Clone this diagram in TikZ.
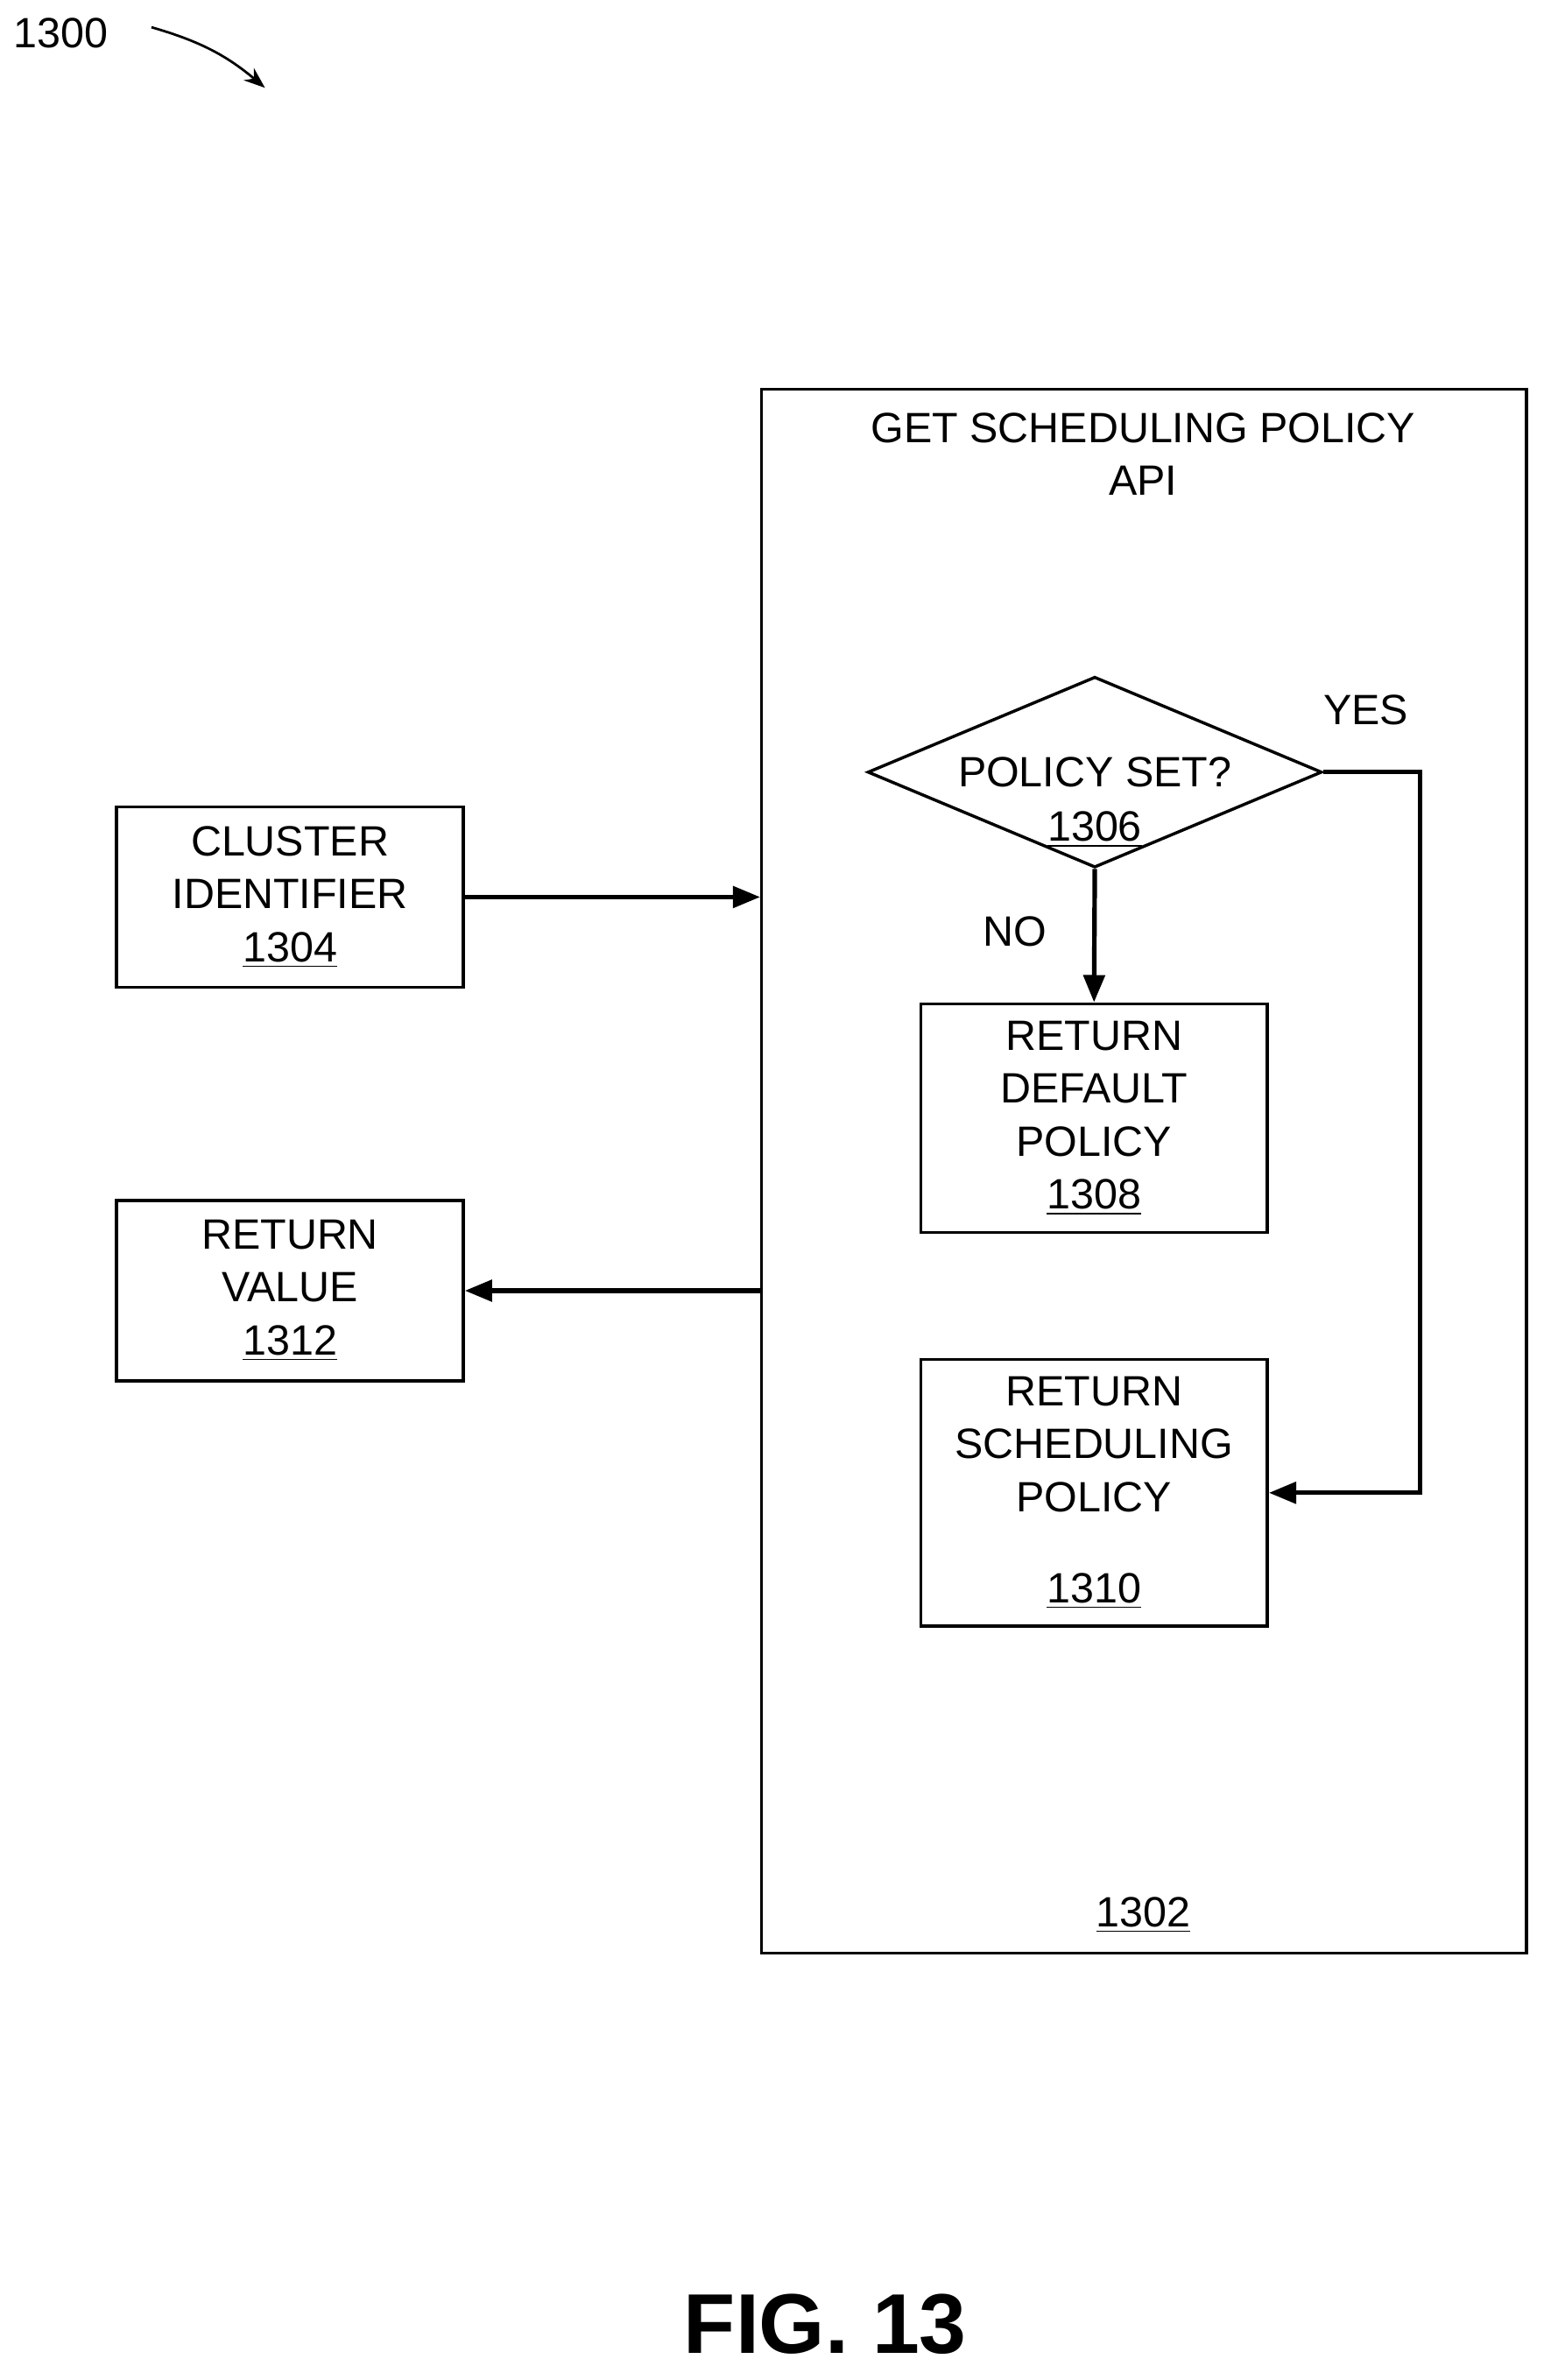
\documentclass[tikz,border=0pt]{standalone}
\usepackage{fontspec}
\setmainfont{Liberation Sans}
\usetikzlibrary{shapes.geometric,arrows.meta}
\begin{document}
\begin{tikzpicture}[x=0.5pt,y=-0.5pt,
  txt/.style={font=\fontsize{14pt}{17.5pt}\selectfont,align=center,inner sep=0pt},
  box/.style={draw,line width=1pt,inner sep=0pt,txt},
  arr/.style={line width=1.5pt,-{Triangle[length=9pt,width=7pt]}}]
\useasboundingbox (0,0) rectangle (1024,1572);
\node[txt] (n1300) at (40,22) {1300};
\draw[line width=0.8pt,-{Stealth[length=7pt]}] (100,18) to[bend left=12] (175,58);
\node[draw,line width=1pt,minimum width=252.5pt,minimum height=516.5pt,inner sep=0pt] (api) at (755.5,773.5) {};
\node[txt] (apit) at (755,300) {GET SCHEDULING POLICY\\API};
\node[txt] (n1302) at (755,1265) {\underline{1302}};
\node[draw,diamond,line width=1pt,minimum width=150pt,minimum height=63pt,inner sep=0pt] (d) at (723,510) {};
\node[txt] (dt) at (723,510) {POLICY SET?};
\node[txt] (dn) at (723,548) {\underline{1306}};
\node[box,minimum width=114.5pt,minimum height=59.5pt] (c) at (191.5,592.5) {CLUSTER\\IDENTIFIER\\\underline{1304}};
\node[box,minimum width=114.5pt,minimum height=59.5pt] (r) at (191.5,852.5) {RETURN\\VALUE\\\underline{1312}};
\node[box,minimum width=114.5pt,minimum height=75.5pt] (b8) at (722.5,738.5) {RETURN\\DEFAULT\\POLICY\\\underline{1308}};
\node[box,minimum width=114.5pt,minimum height=88pt] (b10) at (722.5,986) {RETURN\\SCHEDULING\\POLICY\\[12.5pt]\underline{1310}};
\draw[arr] (c.east) -- (c.east -| api.west);
\draw[arr] (r.east -| api.west) -- (r.east);
\draw[arr] (d.south) -- (b8.north);
\node[txt] (no) at (670,615) {NO};
\coordinate (yc) at (938,510);
\draw[arr] (d.east) -- (yc) |- (b10.east);
\node[txt] (yes) at (902,469) {YES};
\node[font=\fontsize{28pt}{30pt}\selectfont\bfseries,inner sep=0pt] (fig) at (545,1535) {FIG. 13};
\end{tikzpicture}
\end{document}
